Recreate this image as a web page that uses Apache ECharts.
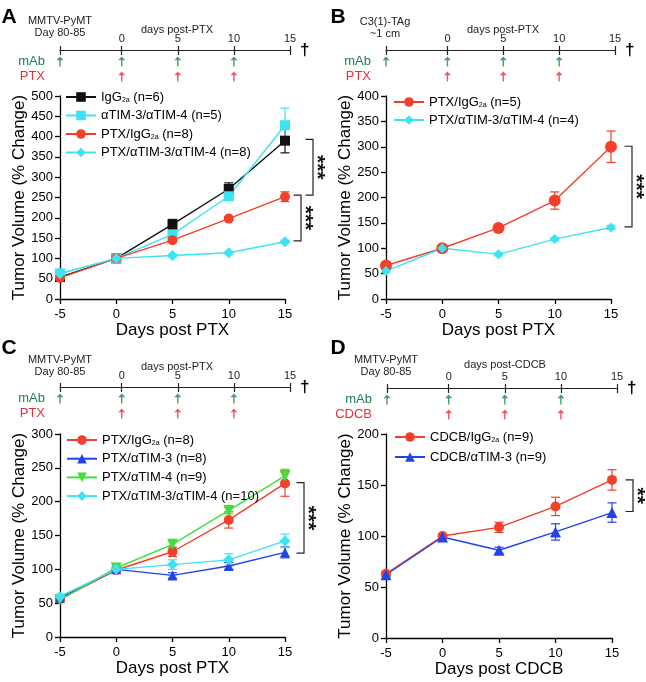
<!DOCTYPE html>
<html><head><meta charset="utf-8">
<script src="https://cdn.jsdelivr.net/npm/echarts@6/dist/echarts.min.js"></script>
<style>html,body{margin:0;padding:0;background:#fff}#c{width:646px;height:682px}</style>
</head><body><div id="c"></div>
<script>
// ---------------- DATA ----------------
const days = [-5, 0, 5, 10, 15];
const xTicks = [-5, 0, 5, 10, 15];
const timelineTicks = [0, 5, 10, 15];
const mAbDays = [-5, 0, 5, 10];     // -5 = pre-treatment start of timeline
const drugDays = [0, 5, 10];

// Panel A (MMTV-PyMT, PTX)
const A_IgG2a = [54, 100, 184, 271, 390];
const A_IgG2a_sem = [3, 0, 12, 15, 30];
const A_TIM34 = [63, 100, 159, 253, 428];
const A_TIM34_sem = [3, 0, 8, 10, 42];
const A_PTX_IgG2a = [52, 100, 145, 198, 252];
const A_PTX_IgG2a_sem = [3, 0, 5, 5, 12];
const A_PTX_TIM34 = [62, 100, 107, 114, 141];
const A_PTX_TIM34_sem = [2, 0, 3, 3, 4];
const A_brackets = [[393, 256], [256, 143]];
const A_stars = ['***', '***'];

// Panel B (C3(1)-TAg, PTX)
const B_PTX_IgG2a = [66, 100, 140, 194, 300];
const B_PTX_IgG2a_sem = [4, 3, 5, 17, 31];
const B_PTX_TIM34 = [55, 100, 88, 118, 141];
const B_PTX_TIM34_sem = [3, 0, 3, 3, 4];
const B_brackets = [[301, 142]];
const B_stars = ['***'];

// Panel C (MMTV-PyMT, PTX)
const C_PTX_IgG2a = [56, 99, 126, 173, 227];
const C_PTX_IgG2a_sem = [3, 3, 7, 12, 19];
const C_PTX_TIM3 = [58, 100, 91, 105, 125];
const C_PTX_TIM3_sem = [3, 3, 4, 5, 8];
const C_PTX_TIM4 = [55, 102, 137, 187, 238];
const C_PTX_TIM4_sem = [3, 3, 5, 5, 10];
const C_PTX_TIM34 = [60, 100, 107, 114, 142];
const C_PTX_TIM34_sem = [3, 3, 7, 9, 10];
const C_brackets = [[228, 124]];
const C_stars = ['***'];

// Panel D (MMTV-PyMT, CDCB)
const D_CDCB_IgG2a = [63, 100, 108.5, 129, 155];
const D_CDCB_IgG2a_sem = [2, 2, 5, 9, 10];
const D_CDCB_TIM3 = [62, 99, 86, 104, 123];
const D_CDCB_TIM3_sem = [2, 2, 3, 8, 9.5];
const D_brackets = [[155, 124]];
const D_stars = ['**'];

// ---------------- STYLE / LAYOUT ----------------
const FONT = "'Liberation Sans', Arial, Helvetica, sans-serif";
const BLACK = '#111111', CYAN = '#3de3f2', RED = '#f2402a', BLUE = '#2243ea', GREEN = '#3fe03a';
const MAB_GREEN = '#1f8050', DRUG_RED = '#e8303c';
const TL_MIN = -5.5;
const ARROW = 'path://M5,0 L10,5 L6,5 L6,13 L4,13 L4,5 L0,5 Z';

const panels = [
  { key: 'A', drug: 'PTX', yMax: 500, xName: 'Days post PTX',
    main: { left: 60, top: 96, width: 225, height: 203 },
    tl: { left: 60, top: 54, width: 230, height: 30 },
    letter: [9, 17], host: ['MMTV-PyMT', 'Day 80-85'], hostXY: [60, 21], daysLabel: ['days post-PTX', 177, 29.5],
    legend: { left: 65, top: 90, gap: 4.5 },
    series: [
      { label: 'IgG2a (n=6)', v: A_IgG2a, e: A_IgG2a_sem, color: BLACK, symbol: 'rect', size: 10 },
      { label: 'αTIM-3/αTIM-4 (n=5)', v: A_TIM34, e: A_TIM34_sem, color: CYAN, symbol: 'rect', size: 10 },
      { label: 'PTX/IgG2a (n=8)', v: A_PTX_IgG2a, e: A_PTX_IgG2a_sem, color: RED, symbol: 'circle', size: 10 },
      { label: 'PTX/αTIM-3/αTIM-4 (n=8)', v: A_PTX_TIM34, e: A_PTX_TIM34_sem, color: CYAN, symbol: 'diamond', size: 11 }
    ],
    brackets: A_brackets, stars: A_stars, brX: [28, 16] },
  { key: 'B', drug: 'PTX', yMax: 400, xName: 'Days post PTX',
    main: { left: 386, top: 96, width: 225, height: 203 },
    tl: { left: 386, top: 54, width: 229, height: 30 },
    letter: [338, 17], host: ['C3(1)-TAg', '~1 cm'], hostXY: [385, 21.5], daysLabel: ['days post-PTX', 503, 30],
    legend: { left: 393, top: 95, gap: 4 },
    series: [
      { label: 'PTX/IgG2a (n=5)', v: B_PTX_IgG2a, e: B_PTX_IgG2a_sem, color: RED, symbol: 'circle', size: 12 },
      { label: 'PTX/αTIM-3/αTIM-4 (n=4)', v: B_PTX_TIM34, e: B_PTX_TIM34_sem, color: CYAN, symbol: 'diamond', size: 10 }
    ],
    brackets: B_brackets, stars: B_stars, brX: [21] },
  { key: 'C', drug: 'PTX', yMax: 300, xName: 'Days post PTX',
    main: { left: 60, top: 434, width: 225, height: 203 },
    tl: { left: 60, top: 391, width: 230, height: 30 },
    letter: [9, 348], host: ['MMTV-PyMT', 'Day 80-85'], hostXY: [60, 359.5], daysLabel: ['days post-PTX', 177, 367],
    legend: { left: 66, top: 433, gap: 4.7 },
    series: [
      { label: 'PTX/IgG2a (n=8)', v: C_PTX_IgG2a, e: C_PTX_IgG2a_sem, color: RED, symbol: 'circle', size: 10 },
      { label: 'PTX/αTIM-3 (n=8)', v: C_PTX_TIM3, e: C_PTX_TIM3_sem, color: BLUE, symbol: 'triangle', size: 10 },
      { label: 'PTX/αTIM-4 (n=9)', v: C_PTX_TIM4, e: C_PTX_TIM4_sem, color: GREEN, symbol: 'triangle', size: 11, rotate: 180 },
      { label: 'PTX/αTIM-3/αTIM-4 (n=10)', v: C_PTX_TIM34, e: C_PTX_TIM34_sem, color: CYAN, symbol: 'diamond', size: 11 }
    ],
    brackets: C_brackets, stars: C_stars, brX: [19] },
  { key: 'D', drug: 'CDCB', yMax: 200, xName: 'Days post CDCB',
    main: { left: 386, top: 434, width: 226, height: 204 },
    tl: { left: 387, top: 392, width: 230, height: 30 },
    letter: [338, 348], host: ['MMTV-PyMT', 'Day 80-85'], hostXY: [386, 359.5], daysLabel: ['days post-CDCB', 505, 365],
    legend: { left: 394, top: 430, gap: 6 },
    series: [
      { label: 'CDCB/IgG2a (n=9)', v: D_CDCB_IgG2a, e: D_CDCB_IgG2a_sem, color: RED, symbol: 'circle', size: 10 },
      { label: 'CDCB/αTIM-3 (n=9)', v: D_CDCB_TIM3, e: D_CDCB_TIM3_sem, color: BLUE, symbol: 'triangle', size: 11 }
    ],
    brackets: D_brackets, stars: D_stars, brX: [21] }
];

// ---------------- BUILD ----------------
const chart = echarts.init(document.getElementById('c'), null, { renderer: 'canvas' });
const grid = [], xAxis = [], yAxis = [], series = [], legend = [];
const axisLineStyle = { color: '#000', width: 1.3 };
const tlLineStyle = { color: '#222', width: 1.2 };
const tlX = d => (d < 0 ? TL_MIN : d);

function errRender(color) {
  return function (params, api) {
    const x = api.value(0), y = api.value(1), e = api.value(2);
    if (!e) return null;
    const t = api.coord([x, y + e]), b = api.coord([x, y - e]);
    const w = 4.5;
    const style = { stroke: color, lineWidth: 1.2, fill: null };
    return { type: 'group', children: [
      { type: 'line', shape: { x1: t[0], y1: t[1], x2: b[0], y2: b[1] }, style },
      { type: 'line', shape: { x1: t[0] - w, y1: t[1], x2: t[0] + w, y2: t[1] }, style },
      { type: 'line', shape: { x1: b[0] - w, y1: b[1], x2: b[0] + w, y2: b[1] }, style }
    ] };
  };
}

panels.forEach((p, i) => {
  const gMain = grid.length;
  grid.push(Object.assign({ outerBoundsMode: 'none', containLabel: false }, p.main));
  const gTl = grid.length;
  grid.push(Object.assign({ outerBoundsMode: 'none', containLabel: false }, p.tl));

  const xMain = xAxis.length;
  xAxis.push({
    type: 'value', gridIndex: gMain, min: xTicks[0], max: xTicks[xTicks.length - 1], interval: 5,
    axisLine: { show: true, onZero: false, lineStyle: axisLineStyle },
    axisTick: { show: true, length: 5, lineStyle: axisLineStyle },
    axisLabel: { fontSize: 13, color: '#000', margin: 9, fontFamily: FONT },
    splitLine: { show: false },
    name: p.xName, nameLocation: 'middle', nameGap: 23,
    nameTextStyle: { fontSize: 17, color: '#000', fontFamily: FONT }
  });
  const xTl = xAxis.length;
  xAxis.push({
    type: 'value', gridIndex: gTl, min: TL_MIN, max: 15, position: 'top', offset: 4,
    axisLine: { show: true, onZero: false, lineStyle: tlLineStyle },
    axisTick: { show: true, customValues: [TL_MIN].concat(timelineTicks), length: 4, lineStyle: tlLineStyle },
    axisLabel: { show: true, customValues: timelineTicks, fontSize: 11, color: '#222', margin: 6, fontFamily: FONT },
    splitLine: { show: false },
    name: '†', nameLocation: 'end', nameGap: 5,
    nameTextStyle: { fontSize: 17, fontWeight: 'bold', color: '#000', fontFamily: FONT, verticalAlign: 'middle' }
  });
  xAxis.push({
    type: 'value', gridIndex: gTl, min: TL_MIN, max: 15, position: 'top', offset: 4,
    axisLine: { show: false, onZero: false },
    axisTick: { show: true, inside: true, customValues: [TL_MIN].concat(timelineTicks), length: 5, lineStyle: tlLineStyle },
    axisLabel: { show: false }, splitLine: { show: false }
  });

  const yMain = yAxis.length;
  yAxis.push({
    type: 'value', gridIndex: gMain, min: 0, max: p.yMax, interval: 50,
    axisLine: { show: true, onZero: false, lineStyle: axisLineStyle },
    axisTick: { show: true, length: 5, lineStyle: axisLineStyle },
    axisLabel: { fontSize: 13, color: '#000', margin: 7, fontFamily: FONT },
    splitLine: { show: false },
    name: 'Tumor Volume (% Change)', nameLocation: 'middle', nameGap: 23,
    nameTextStyle: { fontSize: 17, color: '#000', fontFamily: FONT }
  });
  const yTl = yAxis.length;
  yAxis.push({
    type: 'category', gridIndex: gTl, data: ['mAb', p.drug], inverse: true,
    axisLine: { show: false, onZero: false }, axisTick: { show: false }, splitLine: { show: false },
    axisLabel: { interval: 0, hideOverlap: false, margin: 15, fontSize: 13, fontFamily: FONT,
      color: (v, idx) => (idx === 0 ? MAB_GREEN : DRUG_RED) }
  });

  // data series
  const names = [];
  p.series.forEach(s => {
    const name = p.key + '|' + s.label;
    names.push(name);
    series.push({
      type: 'custom', xAxisIndex: xMain, yAxisIndex: yMain, silent: true, z: 2, clip: false,
      data: days.map((d, k) => [d, s.v[k], s.e[k]]),
      renderItem: errRender(s.color)
    });
  });
  p.series.forEach((s, si) => {
    series.push({
      type: 'line', name: names[si], xAxisIndex: xMain, yAxisIndex: yMain, z: 3,
      data: days.map((d, k) => [d, s.v[k]]),
      symbol: s.symbol, symbolSize: s.size, symbolRotate: s.rotate || 0, showAllSymbol: true,
      lineStyle: { width: 1.4, color: s.color }, itemStyle: { color: s.color }, animation: false
    });
  });
  // treatment arrows
  series.push({
    type: 'scatter', xAxisIndex: xTl, yAxisIndex: yTl, symbol: ARROW, symbolSize: [7, 10],
    itemStyle: { color: MAB_GREEN }, data: mAbDays.map(d => [tlX(d), 'mAb']), silent: true, animation: false
  });
  series.push({
    type: 'scatter', xAxisIndex: xTl, yAxisIndex: yTl, symbol: ARROW, symbolSize: [7, 10],
    itemStyle: { color: DRUG_RED }, data: drugDays.map(d => [tlX(d), p.drug]), silent: true, animation: false
  });

  legend.push({
    data: names, orient: 'vertical', left: p.legend.left, top: p.legend.top,
    itemWidth: 30, itemHeight: 12, itemGap: p.legend.gap, selectedMode: false, padding: 0,
    formatter: n => n.split('|')[1].replace(/IgG2a/g, 'IgG{sub|2a}'),
    textStyle: { fontSize: 13, color: '#000', fontFamily: FONT, lineHeight: 14,
      rich: { sub: { fontSize: 7, lineHeight: 8, verticalAlign: 'bottom', padding: [7, 0, 0, 0], fontFamily: FONT, color: '#000' } } }
  });
});

chart.setOption({ animation: false, backgroundColor: '#fff', grid, xAxis, yAxis, series, legend });

// ---------------- ANNOTATIONS ----------------
const graphic = [];
panels.forEach((p, i) => {
  const gMain = i * 2;
  graphic.push({ type: 'text', x: p.letter[0], y: p.letter[1],
    style: { text: p.key, font: 'bold 21px ' + FONT, fill: '#000', align: 'center', verticalAlign: 'middle' } });
  graphic.push({ type: 'text', x: p.hostXY[0], y: p.hostXY[1],
    style: { text: p.host[0], font: '11px ' + FONT, fill: '#222', align: 'center', verticalAlign: 'middle' } });
  graphic.push({ type: 'text', x: p.hostXY[0], y: p.hostXY[1] + 12,
    style: { text: p.host[1], font: '11px ' + FONT, fill: '#222', align: 'center', verticalAlign: 'middle' } });
  graphic.push({ type: 'text', x: p.daysLabel[1], y: p.daysLabel[2],
    style: { text: p.daysLabel[0], font: '11px ' + FONT, fill: '#222', align: 'center', verticalAlign: 'middle' } });
  p.brackets.forEach((b, bi) => {
    const top = chart.convertToPixel({ gridIndex: gMain }, [15, b[0]]);
    const bot = chart.convertToPixel({ gridIndex: gMain }, [15, b[1]]);
    const x = top[0] + p.brX[bi];
    graphic.push({ type: 'polyline', shape: { points: [[x - 7.5, top[1]], [x, top[1]], [x, bot[1]], [x - 7.5, bot[1]]] },
      style: { stroke: '#222', lineWidth: 1.2, fill: null } });
    graphic.push({ type: 'text', x: x + 4, y: (top[1] + bot[1]) / 2, rotation: -Math.PI / 2,
      style: { text: p.stars[bi], font: 'bold 21px ' + FONT, fill: '#111', align: 'center', verticalAlign: 'middle' } });
  });
});
chart.setOption({ graphic });
</script>
</body></html>
